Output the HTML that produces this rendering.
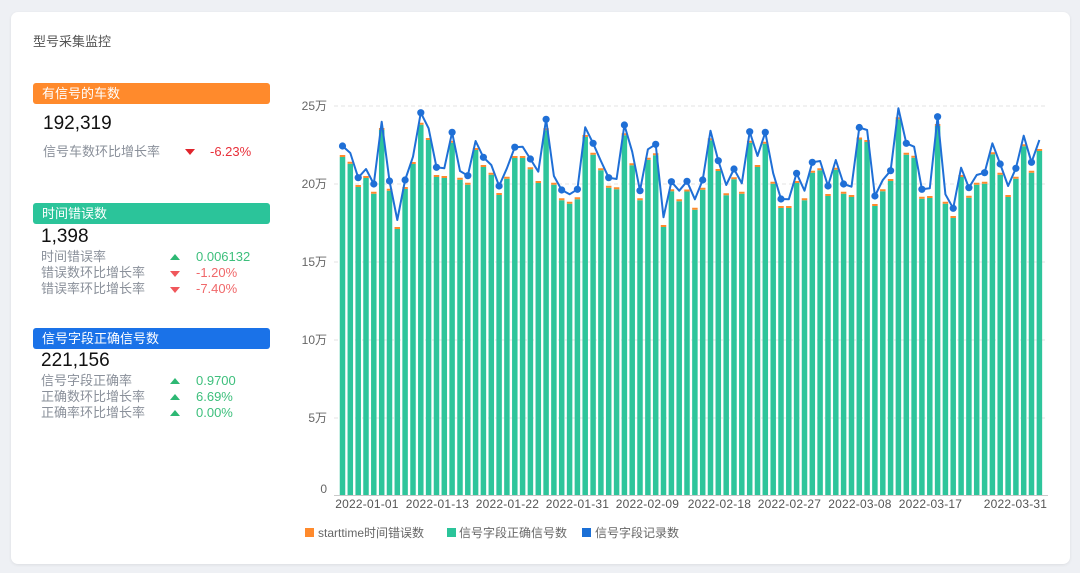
<!DOCTYPE html>
<html><head><meta charset="utf-8"><style>
html,body{margin:0;padding:0;width:1080px;height:573px;background:#eef0f4;overflow:hidden;font-family:"Liberation Sans","Noto Sans CJK SC",sans-serif;}
.card{position:absolute;left:11px;top:12px;width:1059px;height:552px;background:#fff;border-radius:7px;box-shadow:0 1px 3px rgba(0,0,0,0.08);}
.t{position:absolute;white-space:nowrap;}
.title{left:33px;top:33px;font-size:13px;color:#555;line-height:18px;}
.hdr{position:absolute;left:33px;width:237px;height:21px;border-radius:3px;color:#fff;font-size:13px;line-height:21px;padding-left:9px;box-sizing:border-box;}
.big{font-size:19px;color:#111;line-height:22px;}
.lbl{font-size:13px;color:#8a909a;line-height:16px;}
.tri-d{position:absolute;width:0;height:0;border-left:5px solid transparent;border-right:5px solid transparent;border-top:6px solid #e0242c;}
.tri-u{position:absolute;width:0;height:0;border-left:5px solid transparent;border-right:5px solid transparent;border-bottom:6px solid #2db873;}
.g{color:#3dbf7c;font-size:13px;line-height:16px;}
.r{color:#f0686a;font-size:13px;line-height:16px;}
</style></head><body>
<div class="card"></div>
<div class="t title">型号采集监控</div>

<div class="hdr" style="top:83px;background:#ff8a2c;">有信号的车数</div>
<div class="t big" style="left:43px;top:113px;">192,319</div>
<div class="t lbl" style="left:43px;top:144px;">信号车数环比增长率</div>
<div class="tri-d" style="left:185px;top:149px;"></div>
<div class="t" style="left:210px;top:144px;font-size:13px;line-height:16px;color:#e8303a;">-6.23%</div>

<div class="hdr" style="top:203px;background:#2bc49a;">时间错误数</div>
<div class="t big" style="left:41px;top:226px;">1,398</div>
<div class="t lbl" style="left:41px;top:249px;">时间错误率</div>
<div class="t lbl" style="left:41px;top:265px;">错误数环比增长率</div>
<div class="t lbl" style="left:41px;top:281px;">错误率环比增长率</div>
<div class="tri-u" style="left:170px;top:254px;"></div>
<div class="tri-d" style="left:170px;top:271px;border-top-color:#f0575b;"></div>
<div class="tri-d" style="left:170px;top:287px;border-top-color:#f0575b;"></div>
<div class="t g" style="left:196px;top:249px;">0.006132</div>
<div class="t r" style="left:196px;top:265px;">-1.20%</div>
<div class="t r" style="left:196px;top:281px;">-7.40%</div>

<div class="hdr" style="top:328px;background:#1a72e8;">信号字段正确信号数</div>
<div class="t big" style="left:41px;top:350px;">221,156</div>
<div class="t lbl" style="left:41px;top:373px;">信号字段正确率</div>
<div class="t lbl" style="left:41px;top:389px;">正确数环比增长率</div>
<div class="t lbl" style="left:41px;top:405px;">正确率环比增长率</div>
<div class="tri-u" style="left:170px;top:378px;"></div>
<div class="tri-u" style="left:170px;top:394px;"></div>
<div class="tri-u" style="left:170px;top:410px;"></div>
<div class="t g" style="left:196px;top:373px;">0.9700</div>
<div class="t g" style="left:196px;top:389px;">6.69%</div>
<div class="t g" style="left:196px;top:405px;">0.00%</div>

<svg width="1080" height="573" style="position:absolute;left:0;top:0;" xmlns="http://www.w3.org/2000/svg">
<g stroke="#e3e3e3" stroke-width="1" stroke-dasharray="4 3">
<line x1="334" y1="106" x2="1048" y2="106"/>
<line x1="334" y1="184" x2="1048" y2="184"/>
<line x1="334" y1="262" x2="1048" y2="262"/>
<line x1="334" y1="340" x2="1048" y2="340"/>
<line x1="334" y1="418" x2="1048" y2="418"/>
</g>
<g font-family="Liberation Sans, Noto Sans CJK SC, sans-serif" font-size="12" fill="#666" text-anchor="end">
<text x="327" y="110">25万</text>
<text x="327" y="188">20万</text>
<text x="327" y="266">15万</text>
<text x="327" y="344">10万</text>
<text x="327" y="422">5万</text>
<text x="327" y="493">0</text>
</g>
<path fill="none" stroke="#2ec59b" stroke-width="5.5" d="M342.5 495V157M350.3 495V163.7M358.2 495V187M366 495V178M373.8 495V193.7M381.7 495V130M389.5 495V190.7M397.3 495V229M405.1 495V189M413 495V164M420.8 495V124.7M428.6 495V140M436.5 495V177M444.3 495V178M452.1 495V142.7M460 495V179.7M467.8 495V184.7M475.6 495V150M483.4 495V167M491.3 495V174.7M499.1 495V195M506.9 495V178.7M514.8 495V158M522.6 495V158M530.4 495V169.3M538.3 495V183M546.1 495V130.3M553.9 495V184.7M561.7 495V200.3M569.6 495V203.7M577.4 495V199.3M585.2 495V137M593.1 495V154.7M600.9 495V170.3M608.7 495V187.7M616.6 495V189.3M624.4 495V135.3M632.2 495V165.3M640 495V200.3M647.9 495V159.7M655.7 495V155.3M663.5 495V227M671.4 495V191.3M679.2 495V201.3M687 495V191.5M694.9 495V209.7M702.7 495V189.7M710.5 495V140.3M718.3 495V171M726.2 495V195.3M734 495V179.3M741.8 495V193.7M749.7 495V142.7M757.5 495V167M765.3 495V143.7M773.2 495V183.7M781 495V208M788.8 495V208M796.6 495V183M804.5 495V200.3M812.3 495V172.7M820.1 495V170.3M828 495V196M835.8 495V169.7M843.6 495V193.7M851.5 495V197M859.3 495V139.5M867.1 495V142M874.9 495V206M882.8 495V191.3M890.6 495V181M898.4 495V119.3M906.3 495V154.7M914.1 495V157.7M921.9 495V198.7M929.8 495V198M937.6 495V126M945.4 495V203.7M953.2 495V218M961.1 495V177M968.9 495V197.7M976.7 495V184.7M984.6 495V183.7M992.4 495V154.3M1000.2 495V174.7M1008.1 495V197M1015.9 495V178.7M1023.7 495V146.3M1031.5 495V172.7M1039.4 495V151"/>
<path fill="none" stroke="#ff8a2c" stroke-width="5.5" d="M342.5 157V155M350.3 163.7V161.7M358.2 187V185M366 178V176M373.8 193.7V191.7M381.7 130V128M389.5 190.7V188.7M397.3 229V227M405.1 189V187M413 164V162M420.8 124.7V122.7M428.6 140V138M436.5 177V175M444.3 178V176M452.1 142.7V140.7M460 179.7V177.7M467.8 184.7V182.7M475.6 150V148M483.4 167V165M491.3 174.7V172.7M499.1 195V193M506.9 178.7V176.7M514.8 158V156M522.6 158V156M530.4 169.3V167.3M538.3 183V181M546.1 130.3V128.3M553.9 184.7V182.7M561.7 200.3V198.3M569.6 203.7V201.7M577.4 199.3V197.3M585.2 137V135M593.1 154.7V152.7M600.9 170.3V168.3M608.7 187.7V185.7M616.6 189.3V187.3M624.4 135.3V133.3M632.2 165.3V163.3M640 200.3V198.3M647.9 159.7V157.7M655.7 155.3V153.3M663.5 227V225M671.4 191.3V189.3M679.2 201.3V199.3M687 191.5V189.5M694.9 209.7V207.7M702.7 189.7V187.7M710.5 140.3V138.3M718.3 171V169M726.2 195.3V193.3M734 179.3V177.3M741.8 193.7V191.7M749.7 142.7V140.7M757.5 167V165M765.3 143.7V141.7M773.2 183.7V181.7M781 208V206M788.8 208V206M796.6 183V181M804.5 200.3V198.3M812.3 172.7V170.7M820.1 170.3V168.3M828 196V194M835.8 169.7V167.7M843.6 193.7V191.7M851.5 197V195M859.3 139.5V137.5M867.1 142V140M874.9 206V204M882.8 191.3V189.3M890.6 181V179M898.4 119.3V117.3M906.3 154.7V152.7M914.1 157.7V155.7M921.9 198.7V196.7M929.8 198V196M937.6 126V124M945.4 203.7V201.7M953.2 218V216M961.1 177V175M968.9 197.7V195.7M976.7 184.7V182.7M984.6 183.7V181.7M992.4 154.3V152.3M1000.2 174.7V172.7M1008.1 197V195M1015.9 178.7V176.7M1023.7 146.3V144.3M1031.5 172.7V170.7M1039.4 151V149"/>
<line x1="334" y1="495.5" x2="1048" y2="495.5" stroke="#c9c9c9" stroke-width="1"/>
<polyline fill="none" stroke="#1f6fd6" stroke-width="2" stroke-linejoin="round" points="342.5,146 350.3,153 358.2,177.7 366,169 373.8,184 381.7,121.7 389.5,181 397.3,220 405.1,180 413,156.7 420.8,112.7 428.6,128.3 436.5,167.3 444.3,168.3 452.1,132.3 460,171 467.8,175.7 475.6,141 483.4,157.3 491.3,165 499.1,186 506.9,168.3 514.8,147.2 522.6,146.7 530.4,159 538.3,171.7 546.1,119.3 553.9,176 561.7,190 569.6,194.3 577.4,189.3 585.2,127.3 593.1,143.3 600.9,161 608.7,177.7 616.6,179 624.4,125 632.2,151.7 640,190.7 647.9,149.3 655.7,144.3 663.5,217.3 671.4,181.7 679.2,190.7 687,181.3 694.9,199.3 702.7,180 710.5,130.7 718.3,160.7 726.2,185 734,169 741.8,183.3 749.7,131.7 757.5,156 765.3,132.3 773.2,173.3 781,199 788.8,199.3 796.6,173.3 804.5,190.7 812.3,162.3 820.1,161 828,186 835.8,160 843.6,184 851.5,186.7 859.3,127.5 867.1,130 874.9,196 882.8,180 890.6,170.7 898.4,108.3 906.3,143.3 914.1,146.7 921.9,189.3 929.8,188.3 937.6,116.7 945.4,194.3 953.2,208.3 961.1,167.7 968.9,187.7 976.7,175 984.6,172.7 992.4,143.3 1000.2,164 1008.1,186 1015.9,168.3 1023.7,135.7 1031.5,162.3 1039.4,140"/>
<g fill="#1f6fd6">
<circle cx="342.5" cy="146" r="3.6"/><circle cx="358.2" cy="177.7" r="3.6"/><circle cx="373.8" cy="184" r="3.6"/><circle cx="389.5" cy="181" r="3.6"/><circle cx="405.1" cy="180" r="3.6"/><circle cx="420.8" cy="112.7" r="3.6"/><circle cx="436.5" cy="167.3" r="3.6"/><circle cx="452.1" cy="132.3" r="3.6"/><circle cx="467.8" cy="175.7" r="3.6"/><circle cx="483.4" cy="157.3" r="3.6"/><circle cx="499.1" cy="186" r="3.6"/><circle cx="514.8" cy="147.2" r="3.6"/><circle cx="530.4" cy="159" r="3.6"/><circle cx="546.1" cy="119.3" r="3.6"/><circle cx="561.7" cy="190" r="3.6"/><circle cx="577.4" cy="189.3" r="3.6"/><circle cx="593.1" cy="143.3" r="3.6"/><circle cx="608.7" cy="177.7" r="3.6"/><circle cx="624.4" cy="125" r="3.6"/><circle cx="640" cy="190.7" r="3.6"/><circle cx="655.7" cy="144.3" r="3.6"/><circle cx="671.4" cy="181.7" r="3.6"/><circle cx="687" cy="181.3" r="3.6"/><circle cx="702.7" cy="180" r="3.6"/><circle cx="718.3" cy="160.7" r="3.6"/><circle cx="734" cy="169" r="3.6"/><circle cx="749.7" cy="131.7" r="3.6"/><circle cx="765.3" cy="132.3" r="3.6"/><circle cx="781" cy="199" r="3.6"/><circle cx="796.6" cy="173.3" r="3.6"/><circle cx="812.3" cy="162.3" r="3.6"/><circle cx="828" cy="186" r="3.6"/><circle cx="843.6" cy="184" r="3.6"/><circle cx="859.3" cy="127.5" r="3.6"/><circle cx="874.9" cy="196" r="3.6"/><circle cx="890.6" cy="170.7" r="3.6"/><circle cx="906.3" cy="143.3" r="3.6"/><circle cx="921.9" cy="189.3" r="3.6"/><circle cx="937.6" cy="116.7" r="3.6"/><circle cx="953.2" cy="208.3" r="3.6"/><circle cx="968.9" cy="187.7" r="3.6"/><circle cx="984.6" cy="172.7" r="3.6"/><circle cx="1000.2" cy="164" r="3.6"/><circle cx="1015.9" cy="168.3" r="3.6"/><circle cx="1031.5" cy="162.3" r="3.6"/>
</g>
<g font-family="Liberation Sans, Noto Sans CJK SC, sans-serif" font-size="12" fill="#555" text-anchor="middle" letter-spacing="0.2">
<text x="367" y="508">2022-01-01</text>
<text x="437.5" y="508">2022-01-13</text>
<text x="507.5" y="508">2022-01-22</text>
<text x="577.5" y="508">2022-01-31</text>
<text x="647.5" y="508">2022-02-09</text>
<text x="719.5" y="508">2022-02-18</text>
<text x="789.5" y="508">2022-02-27</text>
<text x="860" y="508">2022-03-08</text>
<text x="930.5" y="508">2022-03-17</text>
<text x="1015.5" y="508">2022-03-31</text>
</g>
<rect x="305" y="528" width="9" height="9" fill="#ff8a2c"/>
<rect x="447" y="528" width="9" height="9" fill="#2bc49a"/>
<rect x="582" y="528" width="9" height="9" fill="#1a6fd6"/>
<g font-family="Liberation Sans, Noto Sans CJK SC, sans-serif" font-size="12" fill="#666">
<text x="318" y="537">starttime时间错误数</text>
<text x="459" y="537">信号字段正确信号数</text>
<text x="595" y="537">信号字段记录数</text>
</g>
</svg>
</body></html>
